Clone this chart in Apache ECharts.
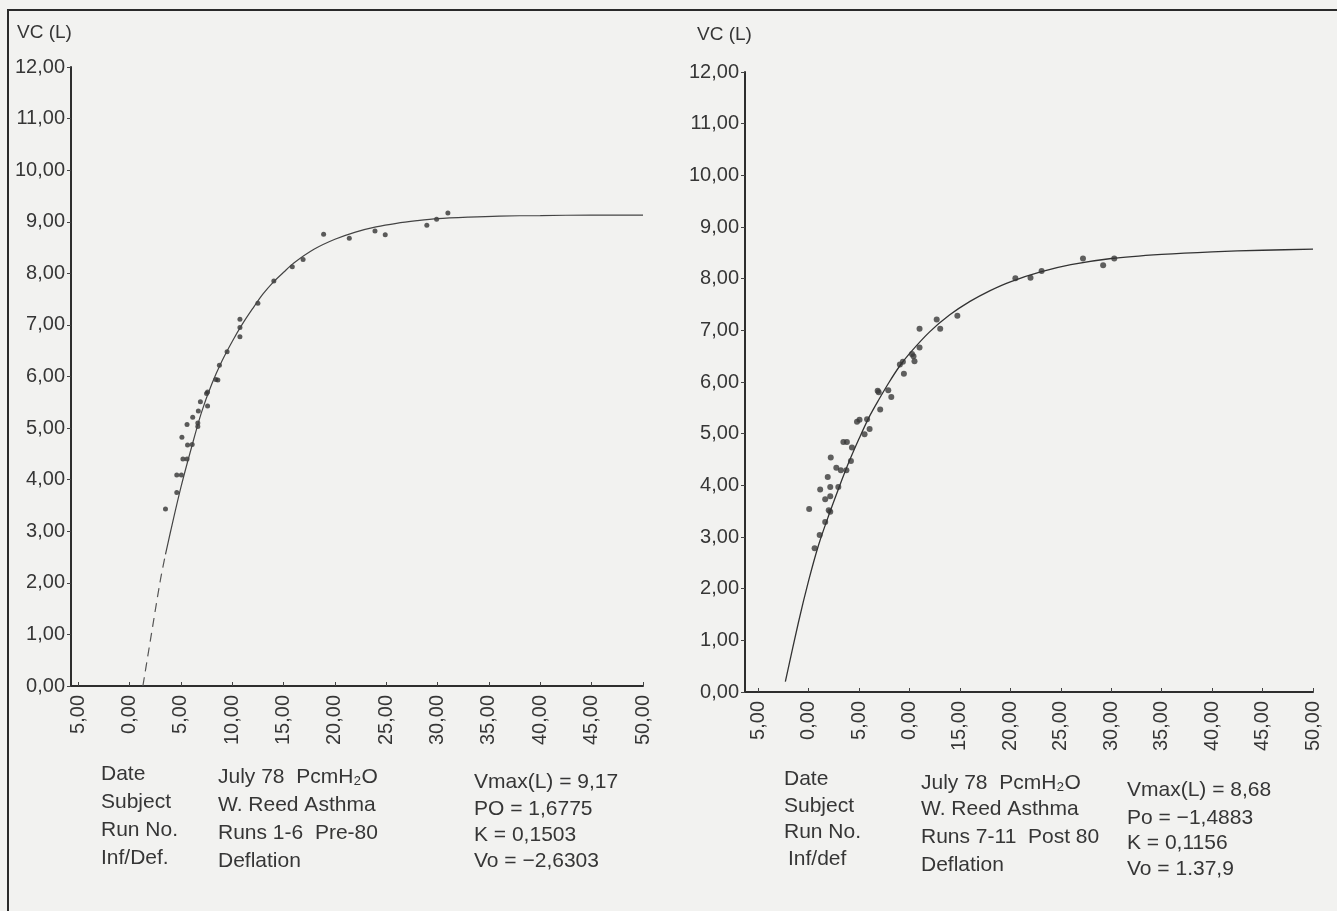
<!DOCTYPE html>
<html>
<head>
<meta charset="utf-8">
<style>
html,body{margin:0;padding:0;background:#f2f2f0;}
#main{width:1337px;height:911px;}
</style>
<script src="https://cdn.jsdelivr.net/npm/echarts@6/dist/echarts.min.js"></script>
</head>
<body>
<div id="main"></div>
<script>
// ticks
var xTickValues = [-5, 0, 5, 10, 15, 20, 25, 30, 35, 40, 45, 50];
var leftXTickLabels = ['5,00', '0,00', '5,00', '10,00', '15,00', '20,00', '25,00', '30,00', '35,00', '40,00', '45,00', '50,00'];
var rightXTickLabels = ['5,00', '0,00', '5,00', '0,00', '15,00', '20,00', '25,00', '30,00', '35,00', '40,00', '45,00', '50,00'];
var yTickLabels = ['0,00', '1,00', '2,00', '3,00', '4,00', '5,00', '6,00', '7,00', '8,00', '9,00', '10,00', '11,00', '12,00'];

// left panel (runs 1-6, pre)
var leftPointsX = [3.5, 4.6, 4.6, 5.05, 5.1, 5.2, 5.6, 5.65, 6.1, 5.6, 6.15, 6.65, 6.65, 6.7, 6.9, 7.6, 7.5, 7.6, 8.4, 8.6, 8.75, 9.5, 10.75, 10.75, 10.75, 12.5, 14.05, 15.85, 16.9, 18.9, 21.4, 23.9, 24.9, 28.95, 29.9, 31.0];
var leftPointsY = [3.43, 3.75, 4.09, 4.09, 4.82, 4.40, 4.40, 4.67, 4.68, 5.07, 5.21, 5.10, 5.03, 5.33, 5.51, 5.43, 5.67, 5.70, 5.94, 5.93, 6.22, 6.48, 6.77, 6.95, 7.11, 7.42, 7.85, 8.13, 8.27, 8.76, 8.68, 8.82, 8.75, 8.93, 9.05, 9.17];
var leftCurveX = [1.3, 2.0, 3.0, 3.5, 4.0, 5.0, 6.0, 7.0, 8.0, 9.0, 10.0, 11.0, 12.0, 13.0, 14.0, 15.0, 16.0, 18.0, 20.0, 22.0, 24.0, 26.0, 28.0, 30.0, 33.0, 36.0, 40.0, 45.0, 50.0];
var leftCurveY = [0.0, 0.85, 2.05, 2.55, 3.0, 3.85, 4.6, 5.3, 5.85, 6.3, 6.68, 7.02, 7.32, 7.6, 7.83, 8.02, 8.2, 8.47, 8.66, 8.8, 8.9, 8.97, 9.02, 9.06, 9.09, 9.11, 9.12, 9.13, 9.13];
var leftDashEnd = 3; // curve is dashed up to this index

// right panel (runs 7-11, post)
var rightPointsX = [0.06, 0.6, 1.1, 1.65, 2.0, 2.15, 1.65, 2.15, 1.15, 2.15, 2.95, 1.9, 2.2, 2.75, 3.2, 3.75, 4.2, 4.3, 3.45, 3.8, 5.55, 6.05, 4.8, 5.05, 5.8, 7.1, 6.85, 6.95, 7.9, 8.2, 9.45, 9.05, 9.35, 10.5, 10.4, 10.25, 11.0, 11.0, 12.7, 13.05, 14.75, 20.5, 22.0, 23.1, 27.2, 29.2, 30.3];
var rightPointsY = [3.54, 2.78, 3.04, 3.29, 3.52, 3.49, 3.73, 3.79, 3.92, 3.97, 3.97, 4.16, 4.54, 4.34, 4.29, 4.29, 4.47, 4.73, 4.84, 4.84, 4.99, 5.09, 5.23, 5.27, 5.28, 5.47, 5.83, 5.80, 5.84, 5.71, 6.16, 6.34, 6.39, 6.40, 6.50, 6.54, 6.67, 7.03, 7.21, 7.03, 7.28, 8.01, 8.02, 8.15, 8.39, 8.26, 8.39];
var rightCurveX = [-2.3, -1.0, 0.0, 1.0, 2.0, 3.0, 4.0, 5.0, 6.0, 7.0, 8.0, 9.0, 10.0, 12.0, 14.0, 16.0, 18.0, 20.0, 23.0, 26.0, 30.0, 35.0, 40.0, 45.0, 50.0];
var rightCurveY = [0.2, 1.35, 2.15, 2.85, 3.42, 3.95, 4.45, 4.9, 5.32, 5.67, 6.0, 6.3, 6.55, 6.97, 7.3, 7.56, 7.77, 7.94, 8.13, 8.27, 8.39, 8.47, 8.52, 8.55, 8.57];

// text blocks under the plots
var infoKeysLeft = ['Date', 'Subject', 'Run No.', 'Inf/Def.'];
var infoValsLeft = ['July 78  PcmH\u2082O', 'W. Reed Asthma', 'Runs 1-6  Pre-80', 'Deflation'];
var fitLeft = ['Vmax(L) = 9,17', 'PO = 1,6775', 'K = 0,1503', 'Vo = \u22122,6303'];
var infoKeysRight = ['Date', 'Subject', 'Run No.', 'Inf/def'];
var infoValsRight = ['July 78  PcmH\u2082O', 'W. Reed Asthma', 'Runs 7-11  Post 80', 'Deflation'];
var fitRight = ['Vmax(L) = 8,68', 'Po = \u22121,4883', 'K = 0,1156', 'Vo = 1.37,9'];

var ink = '#363636';
var font = '"Liberation Sans", Arial, sans-serif';

function zip(xs, ys) {
  var out = [];
  for (var i = 0; i < xs.length; i++) out.push([xs[i], ys[i]]);
  return out;
}

function txt(x, y, s, size) {
  return {
    type: 'text', x: x, y: y, silent: true,
    style: { text: s, fill: ink, font: (size || 21) + 'px ' + font, textVerticalAlign: 'middle' }
  };
}

function xAxisFor(idx, min, labels) {
  return {
    type: 'value', gridIndex: idx, min: min, max: 50,
    axisLine: { show: true, onZero: false, lineStyle: { color: '#2e2e2e', width: 2 } },
    axisTick: { show: true, inside: true, length: 4, customValues: xTickValues, lineStyle: { color: '#444' } },
    axisLabel: {
      rotate: 90, margin: 9, color: ink, fontSize: 20, fontFamily: font,
      customValues: xTickValues,
      formatter: function (v) { return labels[xTickValues.indexOf(v)]; }
    },
    splitLine: { show: false }
  };
}

function yAxisFor(idx) {
  return {
    type: 'value', gridIndex: idx, min: 0, max: 12, interval: 1,
    axisLine: { show: true, onZero: false, lineStyle: { color: '#2e2e2e', width: 2 } },
    axisTick: { show: true, length: 4, lineStyle: { color: '#444' } },
    axisLabel: {
      margin: 6, color: ink, fontSize: 20, fontFamily: font,
      formatter: function (v) { return yTickLabels[Math.round(v)]; }
    },
    splitLine: { show: false }
  };
}

var graphics = [
  { type: 'rect', silent: true, shape: { x: 8, y: 10, width: 1360, height: 940 }, style: { fill: 'none', stroke: '#2a2a2a', lineWidth: 2 } },
  txt(17, 33, 'VC (L)', 19),
  txt(697, 35, 'VC (L)', 19)
];
var leftRows = [774, 802, 830, 858];
var leftFitRows = [782, 809, 835, 861];
var rightRows = [779, 806, 832, 859];
var rightValRows = [783, 809, 837, 865];
var rightFitRows = [790, 818, 843, 869];
for (var i = 0; i < 4; i++) {
  graphics.push(txt(101, leftRows[i], infoKeysLeft[i]));
  graphics.push(txt(218, leftRows[i] + 3, infoValsLeft[i]));
  graphics.push(txt(474, leftFitRows[i], fitLeft[i]));
  graphics.push(txt(i === 3 ? 788 : 784, rightRows[i], infoKeysRight[i]));
  graphics.push(txt(921, rightValRows[i], infoValsRight[i]));
  graphics.push(txt(1127, rightFitRows[i], fitRight[i]));
}

var chart = echarts.init(document.getElementById('main'));
chart.setOption({
  backgroundColor: '#f2f2f0',
  animation: false,
  grid: [
    { left: 71, top: 67, width: 572, height: 619, containLabel: false, outerBoundsMode: 'none' },
    { left: 745, top: 72, width: 568, height: 620, containLabel: false, outerBoundsMode: 'none' }
  ],
  xAxis: [xAxisFor(0, -5.7, leftXTickLabels), xAxisFor(1, -6.3, rightXTickLabels)],
  yAxis: [yAxisFor(0), yAxisFor(1)],
  graphic: graphics,
  series: [
    {
      type: 'line', xAxisIndex: 0, yAxisIndex: 0, smooth: 0.3, symbol: 'none',
      data: zip(leftCurveX.slice(0, leftDashEnd + 1), leftCurveY.slice(0, leftDashEnd + 1)),
      lineStyle: { color: '#555', width: 1.2, type: [9, 6] }
    },
    {
      type: 'line', xAxisIndex: 0, yAxisIndex: 0, smooth: 0.3, symbol: 'none',
      data: zip(leftCurveX.slice(leftDashEnd), leftCurveY.slice(leftDashEnd)),
      lineStyle: { color: '#444', width: 1.2 }
    },
    {
      type: 'scatter', xAxisIndex: 0, yAxisIndex: 0, symbolSize: 5,
      data: zip(leftPointsX, leftPointsY),
      itemStyle: { color: '#333' }
    },
    {
      type: 'line', xAxisIndex: 1, yAxisIndex: 1, smooth: 0.3, symbol: 'none',
      data: zip(rightCurveX, rightCurveY),
      lineStyle: { color: '#333', width: 1.3 }
    },
    {
      type: 'scatter', xAxisIndex: 1, yAxisIndex: 1, symbolSize: 6,
      data: zip(rightPointsX, rightPointsY),
      itemStyle: { color: '#3a3a3a' }
    }
  ]
});
</script>
</body>
</html>
